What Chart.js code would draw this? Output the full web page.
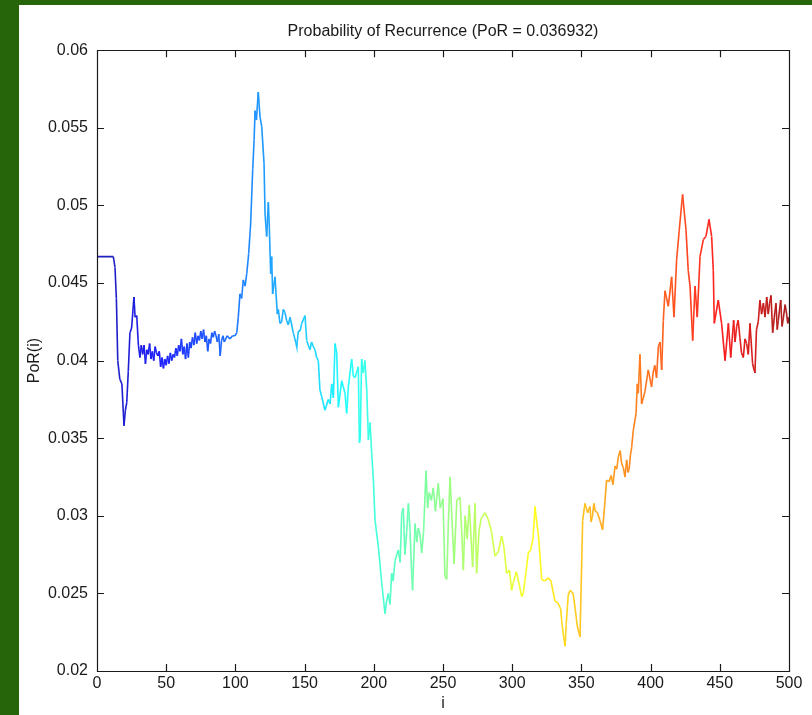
<!DOCTYPE html>
<html>
<head>
<meta charset="utf-8">
<script src="https://cdn.jsdelivr.net/npm/chart.js@4.4.1/dist/chart.umd.min.js"></script>
<style>
  html, body { margin: 0; padding: 0; }
  body { width: 812px; height: 715px; background: #27650a; position: relative; overflow: hidden; }
  #wrap { position: absolute; left: 19px; top: 5px; width: 793px; height: 710px; background: #ffffff; }
  canvas { display: block; }
</style>
</head>
<body>
<div id="wrap"><canvas id="c" width="793" height="710"></canvas></div>
<script>
// ---- data ----
const chartTitle = 'Probability of Recurrence (PoR = 0.036932)';
const xAxisLabel = 'i';
const yAxisLabel = 'PoR(i)';
const xTickLabels = ['0','50','100','150','200','250','300','350','400','450','500'];
const yTickLabels = ['0.02','0.025','0.03','0.035','0.04','0.045','0.05','0.055','0.06'];

const iValues = [
  0, 11.8, 13, 14, 15, 16.5, 18, 19.5, 20.5, 21.5, 22.6, 23.8, 25, 26.7, 27.5, 28.7, 29.9,
  31, 32, 33, 34, 35, 36, 37, 38, 39, 40, 41, 42, 43, 44, 45, 46, 47, 48, 49, 50,
  51, 52, 53, 54, 55, 56, 57, 58, 59, 60, 61, 62, 63, 64, 65, 66, 67, 68, 69, 70,
  71, 72, 73, 74, 75, 76, 77, 78, 79, 80, 81, 82, 83, 84, 85, 86, 87, 88, 89, 90,
  91, 92, 94, 96, 98, 99.7, 101, 102.1, 103.3, 104.5, 105.7, 107, 108.2, 109.6, 111,
  112.5, 113.5, 114.2, 115.2, 116.5, 117.8, 119, 120.7, 121.4, 122.6, 123.8, 124.5,
  125.5, 126.2, 126.9, 128.6, 130.3, 131, 132.2, 133.4, 134.6, 135.8, 137, 138.2,
  139.5, 141.8, 143.8, 144.3, 145.5, 146.7, 147.9, 150.3, 151.5, 153.9, 155, 156.3,
  157.5, 158.7, 159.9, 161.1, 162.3, 164.7, 167.1, 168.4, 169.6, 170.8, 172, 173.2,
  174.4, 176.8, 179.2, 180.4, 181.6, 184, 185.2, 186.4, 188.8, 189.6, 190.2, 191.2,
  192.4, 193.6, 194.9, 196.1, 197.3, 198.5, 199.7, 200.9, 203.3, 205.7, 208.1, 209.3,
  210.5, 211.7, 212.9, 214, 215.3, 217.7, 219, 220.2, 221.3, 222.5, 223.8, 225, 226.2,
  227.4, 228, 229.8, 231, 232.2, 233.4, 234.6, 236, 237.7, 238.9, 240, 241.5, 243,
  244.5, 246.6, 248, 250, 251.4, 252.7, 253.9, 255.1, 256.5, 258, 260, 262.3, 263.5,
  264.7, 266, 267.5, 269, 271.4, 273.1, 274.3, 276, 277.5, 280.3, 282.5, 285, 287.6,
  290, 292.4, 294, 296, 298, 299.6, 300.8, 303, 305, 306.8, 308, 310, 311.6, 313.3,
  315, 316.5, 317.2, 319, 321.3, 323.5, 326, 328, 330.9, 333, 335, 335.7, 336.9,
  338.2, 339, 340.5, 341.8, 344, 345.5, 347, 349, 350.9,
  352.6, 354.5, 356.2, 357, 358, 359, 360, 361.6, 363.4, 365.3,
  367, 368.2, 370, 371.5, 372.8, 374.3, 375.5, 376.7, 378, 379,
  380.3, 381.5, 382.7, 383.6, 384.5, 385.4, 386.3, 387.5, 389.5, 390.4,
  391.1, 392.3, 393.5, 395.9, 398.3, 400.7, 401.8, 403, 404.3, 405.6,
  406.8, 408, 409.2, 410.4, 412.8, 415.2, 416.9, 418.8, 420.7, 423.1,
  425.6, 427.2, 428.5, 430.4, 432.1, 433.7, 435.7, 438.1, 440, 442.2,
  444.1, 445.3, 446, 448.9, 451.3, 453.8, 456.2, 457.9, 460, 461,
  462.2, 463.3, 464.5, 465.7, 467, 468.2, 469.4, 470.6, 471.8, 473.7,
  475.4, 476.5, 477.8, 479, 480.2, 481.5, 482.7, 483.9, 485, 486,
  487, 488.2, 489.4, 490.6, 491.5, 492.3, 494, 495, 496, 497.2,
  498.3, 499.1, 500
];

const porValues = [
  0.0467, 0.0467, 0.0460, 0.0440, 0.0400, 0.0388, 0.0385, 0.0358, 0.0368, 0.0373, 0.0393, 0.0418, 0.0421, 0.0441, 0.0428, 0.0429, 0.0410,
  0.0402, 0.0410, 0.0404, 0.0410, 0.0398, 0.0407, 0.0404, 0.0411, 0.0401, 0.0406, 0.0400, 0.0409, 0.0405, 0.0403, 0.0406, 0.0396, 0.0402, 0.0395, 0.0401, 0.0397,
  0.0403, 0.0398, 0.0405, 0.0400, 0.0404, 0.0402, 0.0408, 0.0403, 0.0410, 0.0406, 0.0414, 0.0404, 0.0409, 0.0401, 0.0411, 0.0402, 0.0412, 0.0408, 0.0415, 0.0410,
  0.0418, 0.0411, 0.0416, 0.0413, 0.0419, 0.0414, 0.0420, 0.0412, 0.0416, 0.0406, 0.0414, 0.0411, 0.0418, 0.0415, 0.0419, 0.0416, 0.0412, 0.0417, 0.0403, 0.0413,
  0.0416, 0.0412, 0.0416, 0.0414, 0.0416, 0.0416, 0.0418, 0.0428, 0.0443, 0.0440, 0.0452, 0.0448, 0.0456, 0.0469, 0.0488,
  0.0523, 0.0542, 0.0561, 0.0555, 0.0573, 0.0557, 0.0551, 0.0527, 0.0495, 0.0480, 0.0502, 0.0486,
  0.0456, 0.0467, 0.0443, 0.0454, 0.0430, 0.0433, 0.0424, 0.0425, 0.0433, 0.0431, 0.0426, 0.0423,
  0.0428, 0.0418, 0.0411, 0.0409, 0.0419, 0.0419, 0.0424, 0.0429, 0.0413, 0.0407, 0.0412, 0.0409,
  0.0407, 0.0402, 0.0400, 0.0381, 0.0377, 0.0368, 0.0375, 0.0372, 0.0385, 0.0376, 0.0411, 0.0405,
  0.0370, 0.0387, 0.0379, 0.0366, 0.0383, 0.0401, 0.0390, 0.0389, 0.0396, 0.0347, 0.0350, 0.0401,
  0.0392, 0.0400, 0.0381, 0.0349, 0.0360, 0.0340, 0.0323, 0.0297, 0.0280, 0.0257, 0.0237, 0.0245,
  0.0250, 0.0243, 0.0263, 0.0258, 0.0271, 0.0278, 0.0270, 0.0302, 0.0305, 0.0275, 0.0290, 0.0308, 0.0290,
  0.0262, 0.0252, 0.0295, 0.0283, 0.0292, 0.0288, 0.0276, 0.0290, 0.0329, 0.0305, 0.0315, 0.0310, 0.0318,
  0.0303, 0.0321, 0.0305, 0.0311, 0.0261, 0.0259, 0.0296, 0.0325, 0.0298, 0.0269, 0.0310, 0.0312, 0.0290,
  0.0265, 0.0300, 0.0285, 0.0307, 0.0267, 0.0308, 0.0263, 0.0290, 0.0298, 0.0302, 0.0298, 0.0290, 0.0274,
  0.0277, 0.0287, 0.0280, 0.0263, 0.0265, 0.0252, 0.0257, 0.0264, 0.0256, 0.0248, 0.0250, 0.0264, 0.0276, 0.0278,
  0.0285, 0.0306, 0.0300, 0.0287, 0.0259, 0.0258, 0.0260, 0.0258, 0.0245, 0.0244, 0.0240, 0.0233, 0.0224,
  0.0216, 0.0230, 0.0249, 0.0252, 0.0250, 0.0240, 0.0229, 0.0222, 0.0297,
  0.0308, 0.0302, 0.0306, 0.0296, 0.0300, 0.0308, 0.0303, 0.0302, 0.0297, 0.0291,
  0.0309, 0.0323, 0.0322, 0.0326, 0.0320, 0.0332, 0.0330, 0.0338, 0.0342, 0.0334,
  0.0331, 0.0325, 0.0336, 0.0328, 0.0330, 0.0339, 0.0344, 0.0355, 0.0366, 0.0385,
  0.0379, 0.0404, 0.0372, 0.0380, 0.0394, 0.0383, 0.0392, 0.0397, 0.0389, 0.0409,
  0.0412, 0.0394, 0.0426, 0.0445, 0.0435, 0.0454, 0.0428, 0.0465, 0.0484, 0.0507,
  0.0484, 0.0458, 0.0448, 0.0413, 0.0448, 0.0428, 0.0467, 0.0478, 0.0480, 0.0491,
  0.0480, 0.0458, 0.0424, 0.0439, 0.0424, 0.0400, 0.0424, 0.0402, 0.0426, 0.0412,
  0.0422, 0.0426, 0.0415, 0.0405, 0.0402, 0.0414, 0.0411, 0.0404, 0.0424, 0.0398,
  0.0392, 0.0420, 0.0425, 0.0439, 0.0430, 0.0437, 0.0428, 0.0441, 0.0430, 0.0437,
  0.0442, 0.0418, 0.0428, 0.0437, 0.0420, 0.0426, 0.0439, 0.0422, 0.0428, 0.0436,
  0.0430, 0.0424, 0.0428
];

// ---- jet colour map (as rendered, slightly softened) ----
function clamp01(v) { return Math.max(0, Math.min(1, v)); }
function jet(t) {
  const tt = 0.04 + 0.93 * t;
  const r = clamp01(1.5 - Math.abs(4 * tt - 3));
  const g = clamp01(1.5 - Math.abs(4 * tt - 2));
  const b = clamp01(1.5 - Math.abs(4 * tt - 1));
  const mix = v => Math.round((v * 0.88 + 0.12) * 255);
  return 'rgb(' + mix(r) + ',' + mix(g) + ',' + mix(b) + ')';
}

const FONT = "'Liberation Sans', Arial, Helvetica, sans-serif";
const INK = '#1a1a1a';

// box around the axes with inward tick marks (drawn from the library's scales)
const boxPlugin = {
  id: 'matlabBox',
  afterDraw(chart) {
    const ctx = chart.ctx;
    const { left, right, top, bottom } = chart.chartArea;
    const xs = chart.scales.x, ys = chart.scales.y;
    const L = 7;
    ctx.save();
    ctx.strokeStyle = INK;
    ctx.lineWidth = 1.2;
    ctx.beginPath();
    ctx.rect(Math.round(left) + 0.5, Math.round(top) + 0.5, Math.round(right - left), Math.round(bottom - top));
    xs.ticks.forEach(t => {
      const p = Math.round(xs.getPixelForValue(t.value)) + 0.5;
      ctx.moveTo(p, bottom); ctx.lineTo(p, bottom - L);
      ctx.moveTo(p, top); ctx.lineTo(p, top + L);
    });
    ys.ticks.forEach(t => {
      const p = Math.round(ys.getPixelForValue(t.value)) + 0.5;
      ctx.moveTo(left, p); ctx.lineTo(left + L, p);
      ctx.moveTo(right, p); ctx.lineTo(right - L, p);
    });
    ctx.stroke();
    ctx.restore();
  }
};

const points = iValues.map((x, k) => ({ x: x, y: porValues[k] }));

new Chart(document.getElementById('c'), {
  type: 'line',
  data: {
    datasets: [{
      data: points,
      borderWidth: 1.6,
      pointRadius: 0,
      tension: 0,
      fill: false,
      borderColor: jet(0),
      segment: {
        borderColor: ctx => jet(((ctx.p0.parsed.x + ctx.p1.parsed.x) / 2) / 500)
      }
    }]
  },
  options: {
    responsive: false,
    animation: false,
    events: [],
    layout: { padding: { top: 0, right: 23, left: 0, bottom: 0 } },
    plugins: {
      legend: { display: false },
      tooltip: { enabled: false },
      title: {
        display: true,
        text: chartTitle,
        fullSize: false,
        color: INK,
        font: { family: FONT, size: 16, weight: 'normal' },
        padding: { top: 17, bottom: 9 }
      }
    },
    scales: {
      x: {
        type: 'linear',
        min: 0, max: 500,
        afterFit(s) { s.height = 44; },
        grid: { display: false, drawTicks: false },
        border: { display: false },
        ticks: {
          stepSize: 50,
          padding: 3,
          color: INK,
          maxRotation: 0,
          font: { family: FONT, size: 16 },
          callback: (v, idx) => xTickLabels[idx]
        },
        title: {
          display: true,
          text: xAxisLabel,
          color: INK,
          font: { family: FONT, size: 16 },
          padding: { top: 0, bottom: 2 }
        }
      },
      y: {
        type: 'linear',
        min: 0.02, max: 0.06,
        afterFit(s) { s.width = 78; },
        grid: { display: false, drawTicks: false },
        border: { display: false },
        ticks: {
          stepSize: 0.005,
          padding: 9,
          color: INK,
          font: { family: FONT, size: 16 },
          callback: (v, idx) => yTickLabels[idx]
        },
        title: {
          display: true,
          text: yAxisLabel,
          color: INK,
          font: { family: FONT, size: 16 },
          padding: { top: 6, bottom: 0 }
        }
      }
    }
  },
  plugins: [boxPlugin]
});
</script>
</body>
</html>
